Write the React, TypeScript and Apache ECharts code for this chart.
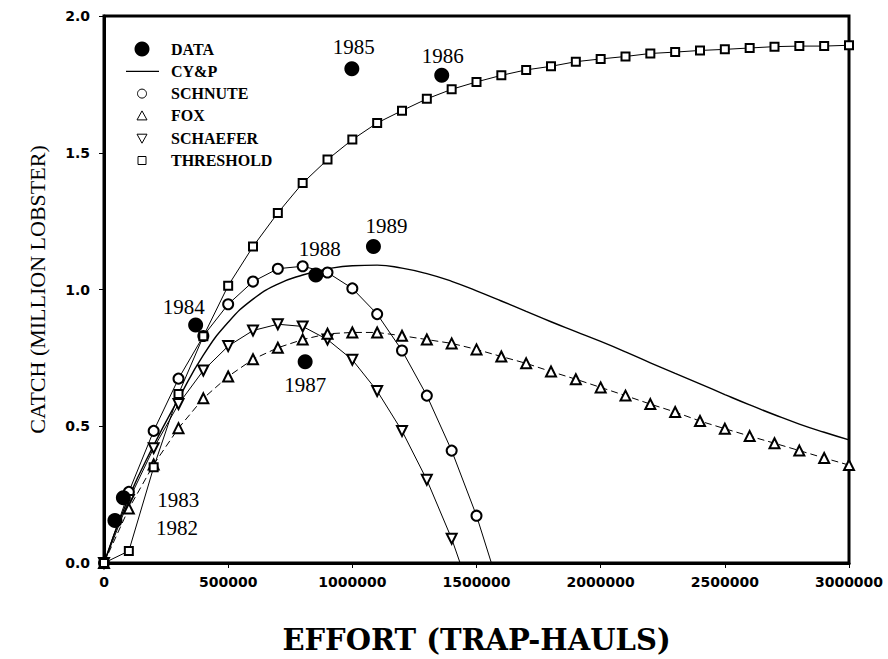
import React, { useEffect, useRef } from "react";
import * as echarts from "echarts";

const years = ["1982", "1983", "1984", "1985", "1986", "1987", "1988", "1989"];
const dataEffort = [44000, 78000, 369000, 998000, 1360000, 810000, 853000, 1085000];
const dataCatch = [0.155, 0.239, 0.87, 1.807, 1.783, 0.736, 1.053, 1.157];

const modelEffort = [
  0, 100000, 200000, 300000, 400000, 500000, 600000, 700000, 800000, 900000,
  1000000, 1100000, 1200000, 1300000, 1400000, 1500000, 1600000, 1700000, 1800000, 1900000,
  2000000, 2100000, 2200000, 2300000, 2400000, 2500000, 2600000, 2700000, 2800000, 2900000,
  3000000,
];

const cypCatch = [
  0, 0.24, 0.43, 0.6, 0.76, 0.88, 0.965, 1.02, 1.053, 1.075,
  1.087, 1.089, 1.078, 1.058, 1.03, 0.995, 0.958, 0.92, 0.882, 0.846,
  0.81, 0.772, 0.732, 0.693, 0.655, 0.616, 0.578, 0.542, 0.508, 0.478,
  0.45,
];

const schnuteCatch = [
  0, 0.26, 0.483, 0.674, 0.83, 0.946, 1.029, 1.076, 1.085, 1.062,
  1.004, 0.91, 0.777, 0.612, 0.411, 0.173,
];
const schnuteZero = 1560000;

const schaeferCatch = [
  0, 0.23, 0.42, 0.581, 0.704, 0.793, 0.85, 0.873, 0.865, 0.817,
  0.743, 0.629, 0.483, 0.304, 0.089,
];
const schaeferZero = 1434000;

const foxCatch = [
  0, 0.199, 0.36, 0.493, 0.602, 0.682, 0.745, 0.787, 0.817, 0.838,
  0.843, 0.843, 0.831, 0.817, 0.803, 0.781, 0.755, 0.73, 0.7, 0.672,
  0.642, 0.612, 0.581, 0.552, 0.519, 0.491, 0.464, 0.438, 0.411, 0.384,
  0.358,
];

const thresholdCatch = [
  0, 0.044, 0.35, 0.618, 0.829, 1.014, 1.157, 1.28, 1.389, 1.475,
  1.548, 1.609, 1.654, 1.697, 1.732, 1.759, 1.783, 1.803, 1.816, 1.833,
  1.843, 1.852, 1.863, 1.868, 1.874, 1.878, 1.883, 1.888, 1.89, 1.89,
  1.893,
];

const legendNames = ["DATA", "CY&P", "SCHNUTE", "FOX", "SCHAEFER", "THRESHOLD"];

// label offsets (styling) for the year labels, relative to each point
const yearLabelOffsets: [number, number][] = [
  [62, 7], [55, 2], [-12, -18], [2, -22], [1, -19], [0, 23], [4, -26], [13, -21],
];

const serif = "'Liberation Serif', 'DejaVu Serif', serif";
const wideSerif = "'DejaVu Serif', 'Liberation Serif', serif";
const sans = "'DejaVu Sans', 'Liberation Sans', sans-serif";

function pairs(xs: number[], ys: number[]) {
  return ys.map((y, i) => [xs[i], y]);
}

export default function App() {
  const ref = useRef<HTMLDivElement>(null);
  useEffect(() => {
    if (!ref.current) return;
    const chart = echarts.init(ref.current, null, { renderer: "svg" });

    const lx = 142;
    const tx = 171;
    const ly0 = 49;
    const dy = 22.3;
    const legendGraphic: any[] = [
      { type: "circle", shape: { cx: lx, cy: ly0, r: 7.5 }, style: { fill: "#000" } },
      { type: "line", shape: { x1: 126, y1: ly0 + dy, x2: 159, y2: ly0 + dy }, style: { stroke: "#000", lineWidth: 1.3 } },
      { type: "circle", shape: { cx: lx, cy: ly0 + 2 * dy, r: 4.5 }, style: { fill: "#fff", stroke: "#000", lineWidth: 1 } },
      {
        type: "polygon",
        shape: { points: [[lx, ly0 + 3 * dy - 5], [lx + 5, ly0 + 3 * dy + 4], [lx - 5, ly0 + 3 * dy + 4]] },
        style: { fill: "#fff", stroke: "#000", lineWidth: 1 },
      },
      {
        type: "polygon",
        shape: { points: [[lx, ly0 + 4 * dy + 5], [lx + 5, ly0 + 4 * dy - 4], [lx - 5, ly0 + 4 * dy - 4]] },
        style: { fill: "#fff", stroke: "#000", lineWidth: 1 },
      },
      {
        type: "rect",
        shape: { x: lx - 4, y: ly0 + 5 * dy - 4, width: 8, height: 8 },
        style: { fill: "#fff", stroke: "#000", lineWidth: 1 },
      },
      ...legendNames.map((n, i) => ({
        type: "text",
        x: tx,
        y: ly0 + i * dy,
        style: {
          text: n,
          fill: "#000",
          font: `bold 16px ${serif}`,
          textVerticalAlign: "middle",
          textAlign: "left",
        },
      })),
    ];

    const lineCommon = {
      type: "line",
      smooth: false,
      lineStyle: { color: "#000", width: 1 },
      itemStyle: { color: "#000", borderColor: "#000", borderWidth: 1, opacity: 1 },
      symbolSize: 9,
      showAllSymbol: true,
      z: 3,
    };

    const option: any = {
      animation: false,
      backgroundColor: "#fff",
      grid: {
        left: 104,
        right: 39,
        top: 16,
        bottom: 84,
        show: true,
        borderColor: "#000",
        borderWidth: 3,
      },
      xAxis: {
        type: "value",
        min: 0,
        max: 3000000,
        interval: 500000,
        name: "EFFORT (TRAP-HAULS)",
        nameLocation: "middle",
        nameGap: 62,
        nameTextStyle: { fontFamily: wideSerif, fontSize: 29, fontWeight: "bold", color: "#000" },
        axisLine: { show: true, lineStyle: { color: "#000", width: 3 } },
        axisTick: { show: true, length: 5, lineStyle: { color: "#000", width: 1 } },
        axisLabel: {
          margin: 12,
          fontFamily: sans,
          fontWeight: "bold",
          fontSize: 14,
          color: "#000",
          formatter: (v: number) => String(v),
        },
        splitLine: { show: false },
      },
      yAxis: {
        type: "value",
        min: 0,
        max: 2,
        interval: 0.5,
        name: "CATCH (MILLION LOBSTER)",
        nameLocation: "middle",
        nameGap: 56,
        nameRotate: 90,
        nameTextStyle: { fontFamily: serif, fontSize: 22, color: "#000" },
        axisLine: { show: true, lineStyle: { color: "#000", width: 3 } },
        axisTick: { show: true, length: 5, lineStyle: { color: "#000", width: 1 } },
        axisLabel: {
          margin: 14,
          fontFamily: sans,
          fontWeight: "bold",
          fontSize: 14,
          color: "#000",
          formatter: (v: number) => v.toFixed(1),
        },
        splitLine: { show: false },
      },
      graphic: legendGraphic,
      series: [
        {
          name: "CY&P",
          type: "line",
          smooth: true,
          symbol: "none",
          lineStyle: { color: "#000", width: 1.4 },
          itemStyle: { color: "#000" },
          data: pairs(modelEffort, cypCatch),
          z: 2,
        },
        {
          ...lineCommon,
          name: "SCHNUTE",
          symbol: "emptyCircle",
          symbolSize: 10,
          data: [
            ...pairs(modelEffort, schnuteCatch),
            { value: [schnuteZero, 0], symbol: "none" },
          ],
        },
        {
          ...lineCommon,
          name: "SCHAEFER",
          symbol: "emptyTriangle",
          symbolRotate: 180,
          symbolSize: 10,
          data: [
            ...pairs(modelEffort, schaeferCatch),
            { value: [schaeferZero, 0], symbol: "none" },
          ],
        },
        {
          ...lineCommon,
          name: "FOX",
          symbol: "emptyTriangle",
          symbolSize: 10,
          lineStyle: { color: "#000", width: 1, type: [7, 4] },
          data: pairs(modelEffort, foxCatch),
        },
        {
          ...lineCommon,
          name: "THRESHOLD",
          symbol: "emptyRect",
          symbolSize: 8,
          data: pairs(modelEffort, thresholdCatch),
        },
        {
          name: "DATA",
          type: "scatter",
          symbol: "circle",
          symbolSize: 15,
          itemStyle: { color: "#000", opacity: 1 },
          z: 5,
          data: dataEffort.map((x, i) => ({
            value: [x, dataCatch[i]],
            name: years[i],
            label: {
              show: true,
              position: "inside",
              offset: yearLabelOffsets[i],
              formatter: years[i],
              fontFamily: serif,
              fontSize: 21,
              color: "#000",
            },
          })),
        },
      ],
    };
    chart.setOption(option);
    return () => chart.dispose();
  }, []);
  return (
    <div
      ref={ref}
      style={{ position: "fixed", left: 0, top: 0, width: 888, height: 659 }}
    />
  );
}
